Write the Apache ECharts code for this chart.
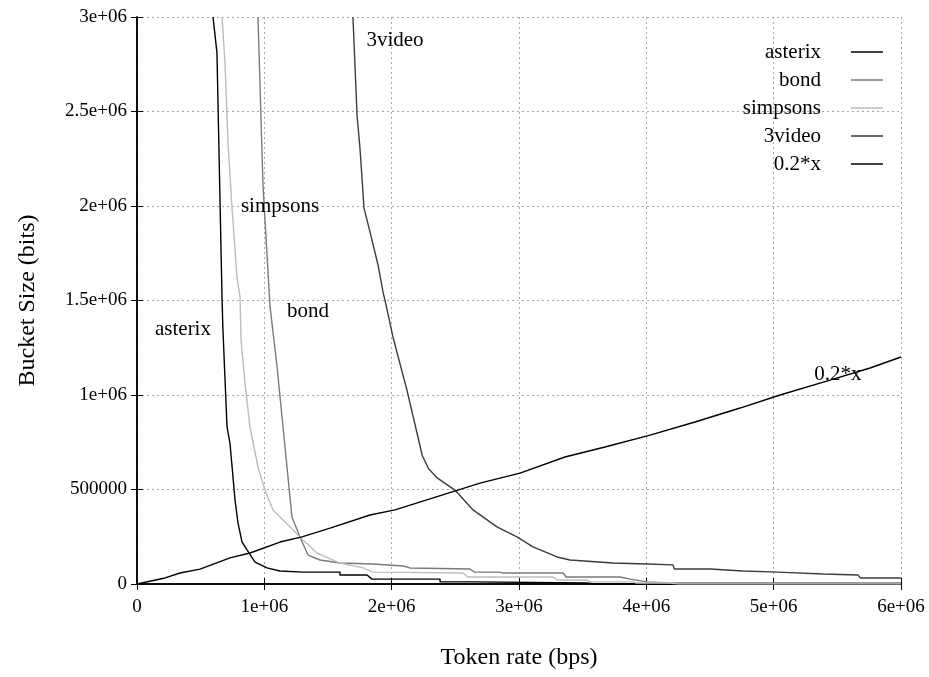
<!DOCTYPE html>
<html>
<head>
<meta charset="utf-8">
<script src="https://cdn.jsdelivr.net/npm/echarts@6/dist/echarts.min.js"></script>
<style>html,body{margin:0;padding:0;background:#fff}#c{width:929px;height:677px}</style>
</head>
<body>
<div id="c"></div>
<script>
// Tick labels
const xTickLabels = ['0', '1e+06', '2e+06', '3e+06', '4e+06', '5e+06', '6e+06'];
const yTickLabels = ['0', '500000', '1e+06', '1.5e+06', '2e+06', '2.5e+06', '3e+06'];
const seriesNames = ['asterix', 'bond', 'simpsons', '3video', '0.2*x'];

// [token rate (bps), bucket size (bits)]
const asterix = [
  [597000, 3000000], [628000, 2810000], [668000, 1503000], [675000, 1344000],
  [707000, 831000], [730000, 746000], [770000, 444000], [793000, 323000],
  [825000, 222000], [864000, 180000], [927000, 116000], [1021000, 85000],
  [1123000, 69000], [1304000, 63000], [1594000, 63000], [1594000, 48000],
  [1806000, 48000], [1846000, 26000], [2380000, 26000], [2380000, 11000],
  [2655000, 11000], [2655000, 5000], [3534000, 5000], [3600000, 0], [6000000, 0]
];
const bond = [
  [950000, 3000000], [990000, 2101000], [1045000, 1466000], [1100000, 1148000],
  [1178000, 619000], [1217000, 354000], [1280000, 249000], [1343000, 153000],
  [1437000, 127000], [1594000, 111000], [1853000, 106000], [2089000, 95000],
  [2144000, 85000], [2615000, 79000], [2650000, 63000], [2851000, 63000],
  [2870000, 58000], [3346000, 58000], [3370000, 37000], [3793000, 37000],
  [3872000, 26000], [4005000, 11000], [4186000, 5000], [6000000, 5000]
];
const simpsons = [
  [668000, 3000000], [691000, 2757000], [715000, 2333000], [746000, 1995000],
  [785000, 1624000], [809000, 1519000], [817000, 1291000], [848000, 1063000],
  [887000, 831000], [950000, 619000], [1005000, 497000], [1068000, 392000],
  [1202000, 302000], [1304000, 233000], [1414000, 164000], [1594000, 111000],
  [1775000, 85000], [1850000, 63000], [2560000, 58000], [2600000, 37000],
  [3267000, 37000], [3300000, 21000], [3534000, 21000], [3560000, 11000],
  [3895000, 11000], [3920000, 5000], [4186000, 5000], [4250000, 0], [6000000, 0]
];
const video3 = [
  [1696000, 3000000], [1728000, 2481000], [1751000, 2307000], [1783000, 1989000],
  [1830000, 1862000], [1893000, 1688000], [1932000, 1545000], [1956000, 1476000],
  [2010000, 1307000], [2120000, 1026000], [2199000, 799000], [2240000, 680000],
  [2290000, 610000], [2360000, 560000], [2497000, 497000], [2639000, 392000],
  [2827000, 302000], [2984000, 249000], [3110000, 196000], [3299000, 143000],
  [3401000, 127000], [3738000, 111000], [4005000, 106000], [4210000, 101000],
  [4220000, 79000], [4500000, 79000], [4510000, 69000], [4759000, 69000],
  [4770000, 63000], [5034000, 63000], [5045000, 53000], [5388000, 53000],
  [5400000, 48000], [5662000, 48000], [5680000, 32000], [6000000, 32000]
];
const line02x = [
  [0, 0], [220000, 32000], [338000, 58000], [495000, 79000], [730000, 138000],
  [888000, 164000], [1123000, 222000], [1296000, 249000], [1516000, 296000],
  [1830000, 365000], [2026000, 392000], [2301000, 450000], [2694000, 534000],
  [3008000, 587000], [3361000, 672000], [3675000, 725000], [4029000, 788000],
  [4382000, 857000], [4736000, 931000], [5050000, 1000000], [5443000, 1079000],
  [5757000, 1143000], [6000000, 1201000]
];
// in-plot label anchors [x, y]
const labelAnchors = [
  [361000, 1344000], [1343000, 1444000], [1123000, 1995000], [2026000, 2878000], [5505000, 1106000]
];

const FONT = 'Liberation Serif';
const colors = ['#000000', '#7a7a7a', '#bdbdbd', '#3c3c3c', '#000000'];
const datasets = [asterix, bond, simpsons, video3, line02x];

const chart = echarts.init(document.getElementById('c'), null, {renderer: 'canvas'});
const axisLine = {show: true, lineStyle: {color: '#000', width: 1.5}};
const grid = {left: 137, right: 28, top: 17, bottom: 93};
const option = {
  animation: false,
  backgroundColor: '#fff',
  grid: grid,
  legend: {
    orient: 'vertical',
    right: 41,
    top: 36,
    align: 'right',
    itemWidth: 32,
    itemHeight: 1.5,
    itemGap: 6,
    icon: 'rect',
    data: seriesNames,
    textStyle: {fontFamily: FONT, fontSize: 21, color: '#000', lineHeight: 22, padding: [0, 25, 0, 0]}
  },
  xAxis: [{
    type: 'value', min: 0, max: 6000000, interval: 1000000,
    name: 'Token rate (bps)', nameLocation: 'middle', nameGap: 62,
    nameTextStyle: {fontFamily: FONT, fontSize: 24, color: '#000'},
    axisLine: axisLine,
    axisTick: {show: true, inside: true, length: 6, lineStyle: {color: '#000'}},
    axisLabel: {fontFamily: FONT, fontSize: 19, color: '#000', margin: 14,
      formatter: v => xTickLabels[Math.round(v / 1000000)]},
    splitLine: {show: true, lineStyle: {color: '#aaa', type: [2, 3], width: 1}}
  }, {
    type: 'value', min: 0, max: 6000000, interval: 1000000, position: 'top',
    axisLine: axisLine,
    axisTick: {show: true, inside: true, length: 6, lineStyle: {color: '#000'}},
    axisLabel: {show: false}, splitLine: {show: false}
  }],
  yAxis: [{
    type: 'value', min: 0, max: 3000000, interval: 500000,
    name: 'Bucket Size (bits)', nameLocation: 'middle', nameGap: 97, nameRotate: 90,
    nameTextStyle: {fontFamily: FONT, fontSize: 24, color: '#000'},
    axisLine: axisLine,
    axisTick: {show: true, inside: true, length: 6, lineStyle: {color: '#000'}},
    axisLabel: {fontFamily: FONT, fontSize: 19, color: '#000', margin: 10,
      formatter: v => yTickLabels[Math.round(v / 500000)]},
    splitLine: {show: true, lineStyle: {color: '#aaa', type: [2, 3], width: 1}}
  }, {
    type: 'value', min: 0, max: 3000000, interval: 500000, position: 'right',
    axisLine: axisLine,
    axisTick: {show: true, inside: true, length: 6, lineStyle: {color: '#000'}},
    axisLabel: {show: false}, splitLine: {show: false}
  }],
  series: datasets.map((d, i) => ({
    name: seriesNames[i],
    type: 'line',
    data: d,
    xAxisIndex: 0, yAxisIndex: 0,
    showSymbol: false, symbol: 'none',
    color: colors[i],
    lineStyle: {color: colors[i], width: 1.4},
    z: 3,
    markPoint: {
      symbol: 'circle', symbolSize: 0, silent: true,
      label: {show: true, position: 'inside', formatter: seriesNames[i],
        fontFamily: FONT, fontSize: 21, color: '#000'},
      data: [{coord: labelAnchors[i]}]
    }
  }))
};
chart.setOption(option);
</script>
</body>
</html>
